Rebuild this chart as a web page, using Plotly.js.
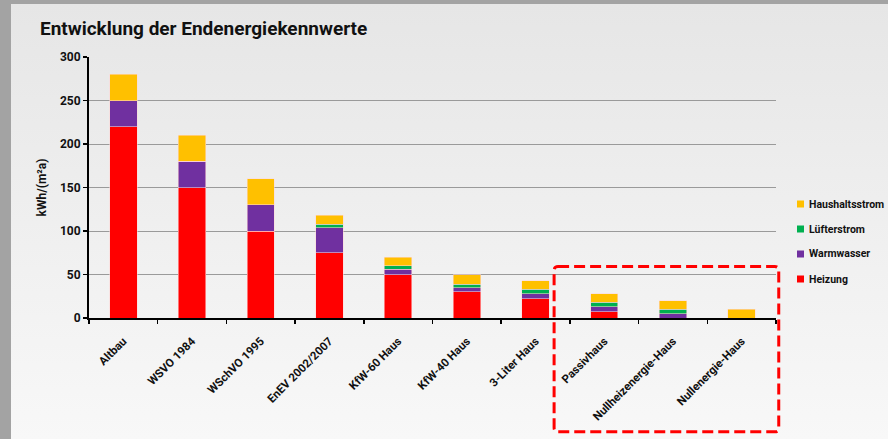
<!DOCTYPE html>
<html>
<head>
<meta charset="utf-8">
<script src="https://cdn.plot.ly/plotly-3.0.1.min.js"></script>
<style>
  html, body { margin: 0; padding: 0; background: #a3a3a3; width: 888px; height: 439px; overflow: hidden; }
  #chart { position: absolute; left: 11px; top: 4px; width: 877px; height: 435px;
           background: linear-gradient(#e6e6e6, #f8f8f8); }
</style>
</head>
<body>
<div id="chart"></div>
<script>
const categories = ["Altbau", "WSVO 1984", "WSchVO 1995", "EnEV 2002/2007", "KfW-60 Haus",
                    "KfW-40 Haus", "3-Liter Haus", "Passivhaus", "Nullheizenergie-Haus", "Nullenergie-Haus"];
const heizung        = [220, 150, 100, 75, 50, 30, 22, 7, 0, 0];
const warmwasser     = [30, 30, 30, 29, 6, 5, 6, 6, 5, 0];
const luefterstrom   = [0, 0, 0, 4, 4, 4, 5, 5, 5, 0];
const haushaltsstrom = [30, 30, 30, 10, 10, 11, 10, 10, 10, 10];
const seriesNames  = ["Heizung", "Warmwasser", "Lüfterstrom", "Haushaltsstrom"];
const seriesColors = ["#FF0000", "#7030A0", "#00B050", "#FFC000"];
const seriesValues = [heizung, warmwasser, luefterstrom, haushaltsstrom];

const FONT = 'Roboto, "DejaVu Sans", sans-serif';
const edge = { color: 'rgba(255,215,215,0.9)', width: 0.6 };

const data = seriesNames.map((n, i) => ({
  type: 'bar', name: n, x: categories, y: seriesValues[i],
  marker: { color: seriesColors[i], line: edge }, showlegend: false
}));

// plot area geometry (in px inside the div)
const PL = 78, PR = 112, PT = 53, PB = 121, W = 877, H = 435;
const pw = W - PL - PR, ph = H - PT - PB;
const px = v => v / pw, py = v => v / ph;

// legend (Haushaltsstrom on top, Heizung at bottom) drawn as squares + text
const legendShapes = [], legendAnn = [];
const legX = 1.0 + px(21), legTop = 1.0 - py(147), legStep = py(25), sq = 7;
for (let k = 0; k < seriesNames.length; k++) {
  const i = seriesNames.length - 1 - k;
  const yc = legTop - k * legStep;
  legendShapes.push({ type: 'rect', xref: 'paper', yref: 'paper', x0: legX, x1: legX + px(sq),
    y0: yc - py(sq / 2), y1: yc + py(sq / 2), fillcolor: seriesColors[i], line: { width: 0 } });
  legendAnn.push({ xref: 'paper', yref: 'paper', x: legX + px(sq + 3), y: yc, xanchor: 'left', yanchor: 'middle',
    showarrow: false, text: '<b>' + seriesNames[i] + '</b>', font: { family: FONT, size: 10.5, color: '#111' } });
}

// dashed highlight box with rounded corners
const bx0 = 0.677, bx1 = 1.004, by0 = -0.436, by1 = 0.197, rx = px(4), ry = py(4);
const boxPath = `M ${bx0 + rx} ${by1} L ${bx1 - rx} ${by1} Q ${bx1} ${by1} ${bx1} ${by1 - ry} ` +
  `L ${bx1} ${by0 + ry} Q ${bx1} ${by0} ${bx1 - rx} ${by0} L ${bx0 + rx} ${by0} Q ${bx0} ${by0} ${bx0} ${by0 + ry} ` +
  `L ${bx0} ${by1 - ry} Q ${bx0} ${by1} ${bx0 + rx} ${by1} Z`;

const layout = {
  width: W, height: H,
  paper_bgcolor: 'rgba(0,0,0,0)', plot_bgcolor: 'rgba(0,0,0,0)',
  margin: { l: PL, r: PR, t: PT, b: PB },
  barmode: 'stack', bargap: 0.6, showlegend: false,
  font: { family: FONT, color: '#111', size: 12 },
  title: { text: '<b>Entwicklung der Endenergiekennwerte</b>', xref: 'container', x: 0.033, xanchor: 'left',
           yref: 'container', y: 0.943, yanchor: 'middle', font: { family: FONT, size: 19, color: '#111' } },
  xaxis: { type: 'category', tickangle: -45, ticks: 'outside', tickson: 'boundaries', ticklen: 4,
           tickwidth: 1.5, tickcolor: '#000', showline: true, linecolor: '#000', linewidth: 2,
           showgrid: false, ticklabelstandoff: 10, tickfont: { family: FONT, size: 11.5 },
           tickprefix: '<b>', ticksuffix: '</b>' },
  yaxis: { range: [0, 300], dtick: 50, ticks: 'outside', ticklen: 4, tickwidth: 1.5, tickcolor: '#000',
           showline: true, linecolor: '#000', linewidth: 2, showgrid: true, gridcolor: '#9a9a9a', gridwidth: 1,
           zeroline: false, tickfont: { family: FONT, size: 12 }, tickprefix: '<b>', ticksuffix: '</b>',
           title: { text: '<b>kWh/(m²a)</b>', font: { family: FONT, size: 12 }, standoff: 11 } },
  annotations: legendAnn,
  shapes: legendShapes.concat([{ type: 'path', xref: 'paper', yref: 'paper', path: boxPath,
             line: { color: '#FF0000', width: 3, dash: '11px,5px' }, fillcolor: 'rgba(0,0,0,0)', layer: 'above' }])
};

Plotly.newPlot('chart', data, layout, { displayModeBar: false, staticPlot: true });
</script>
</body>
</html>
